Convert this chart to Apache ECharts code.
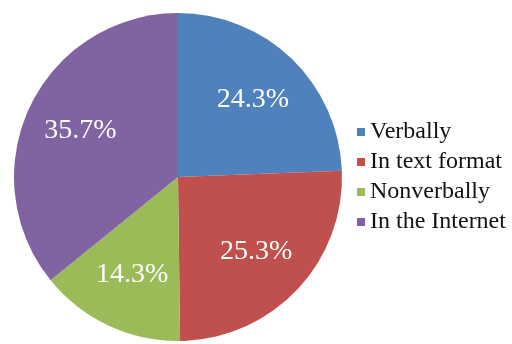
<!DOCTYPE html>
<html>
<head>
<meta charset="utf-8">
<script src="https://cdn.jsdelivr.net/npm/echarts@6/dist/echarts.min.js"></script>
<style>
  html, body { margin: 0; padding: 0; background: #fff; }
  #chart { width: 512px; height: 344px; }
</style>
</head>
<body>
<div id="chart"></div>
<script>
// Ways of communicating, share of respondents (%)
const categories = ['Verbally', 'In text format', 'Nonverbally', 'In the Internet'];
const shares = [24.3, 25.3, 14.3, 35.7];
const sliceColors = ['#4F81BD', '#C0504D', '#9BBB59', '#8064A2'];

const pieData = categories.map((name, i) => ({ name: name, value: shares[i] }));

const serif = '"Liberation Serif", "DejaVu Serif", serif';
const center = [178, 177];
const outerR = 164;

const chart = echarts.init(document.getElementById('chart'), null, { renderer: 'canvas' });
chart.setOption({
  animation: false,
  color: sliceColors,
  legend: {
    orient: 'vertical',
    left: 352,
    top: 115,
    itemWidth: 8,
    itemHeight: 8,
    itemGap: 6,
    icon: 'rect',
    data: categories,
    textStyle: {
      fontFamily: serif,
      fontSize: 24,
      lineHeight: 23,
      color: '#111',
      padding: [0, 0, 0, 0]
    }
  },
  series: [
    {
      // the slices themselves
      type: 'pie',
      center: center,
      radius: [0, outerR],
      startAngle: 90,
      clockwise: true,
      data: pieData,
      label: { show: false },
      labelLine: { show: false },
      emphasis: { disabled: true }
    },
    {
      // transparent ring that carries the percentage labels further out
      type: 'pie',
      center: center,
      radius: [46, outerR],
      startAngle: 90,
      clockwise: true,
      silent: true,
      legendHoverLink: false,
      data: pieData,
      itemStyle: { color: 'rgba(0,0,0,0)' },
      label: {
        show: true,
        position: 'inside',
        formatter: p => p.value.toFixed(1) + '%',
        color: '#fff',
        fontFamily: serif,
        fontSize: 28
      },
      labelLine: { show: false },
      emphasis: { disabled: true }
    }
  ]
});
</script>
</body>
</html>
